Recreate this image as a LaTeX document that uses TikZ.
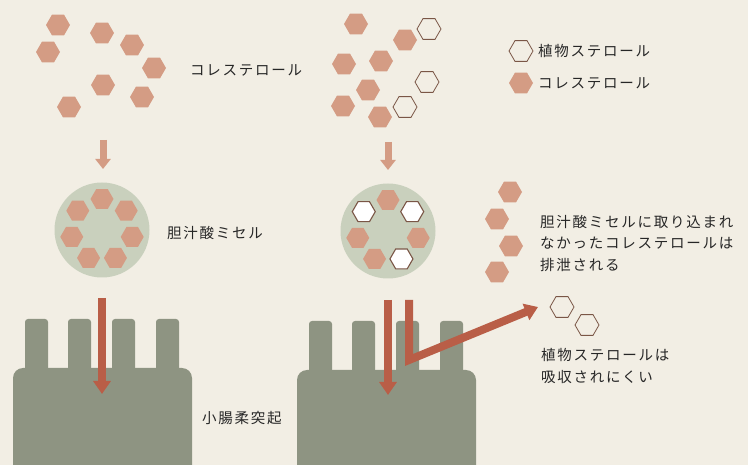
\documentclass[tikz,border=0pt]{standalone}
\usepackage{fontspec}
\usepackage{tikz}
\usepackage{xcolor}
\usetikzlibrary{shapes.geometric, arrows.meta, calc}
\newfontfamily\jpfont[LetterSpace=12]{Noto Sans CJK JP}
\definecolor{paper}{HTML}{F2EEE4}
\definecolor{villus}{HTML}{8E9482}
\definecolor{micelle}{HTML}{C9D0BD}
\definecolor{chol}{HTML}{D49C84}
\definecolor{flow}{HTML}{B95E47}
\definecolor{sterol}{HTML}{7A5646}
\definecolor{ink}{HTML}{262626}

\begin{document}
\begin{tikzpicture}[x=1pt, y=-1pt,
  hex/.style={regular polygon, regular polygon sides=6, minimum size=24pt, inner sep=0pt, outer sep=0pt},
  chol/.style={hex, fill=chol},
  plant/.style={hex, draw=sterol, line width=0.8pt, fill=#1}, plant/.default=paper,
  label text/.style={font=\jpfont\fontsize{14.5}{21.5}\selectfont, text=ink, anchor=west, align=left, inner sep=0pt},
  small flow/.style={draw=chol, line width=7pt, -{Triangle[width=15pt,length=10pt]}},
  big flow/.style={draw=flow, line width=8pt, line join=miter, -{Triangle[width=17pt,length=13pt]}}]
\path[use as bounding box, fill=paper] (0,0) rectangle (748,465);

\fill[villus, rounded corners=10pt] (13,490) -- (13,368) -- (192,368) -- (192,490) -- cycle;
\foreach \x in {25,68,112,156} \fill[villus, rounded corners=3pt] (\x,380) rectangle (\x+23,319);
\fill[villus, rounded corners=10pt] (297,490) -- (297,370) -- (476,370) -- (476,490) -- cycle;
\foreach \x in {309,352,396,440} \fill[villus, rounded corners=3pt] (\x,380) rectangle (\x+23,321);

\foreach \p [count=\i] in {(58,25),(48,52),(102,33),(132,45),(154,68),(103,85),(142,97),(69,107)} \node[chol] (cL-\i) at \p {};
\foreach \p [count=\i] in {(356,24),(405,40),(344,64),(381,61),(368,90),(343,106),(380,117)} \node[chol] (cR-\i) at \p {};
\foreach \p [count=\i] in {(429,29),(427,82),(405,107)} \node[plant] (pR-\i) at \p {};

\node[circle, fill=micelle, minimum size=95pt, inner sep=0pt] (mL) at (102,230) {};
\foreach \a [count=\i] in {90,141.4,192.8,244.3,295.7,347.1,38.6} \node[chol, minimum size=23pt] (mL-\i) at ($(mL)+(\a:31pt)$) {};
\node[circle, fill=micelle, minimum size=95pt, inner sep=0pt] (mR) at (388,231) {};
\foreach \a [count=\i] in {90,192.8,244.3,347.1} \node[chol, minimum size=23pt] (mR-c\i) at ($(mR)+(\a:31pt)$) {};
\foreach \a [count=\i] in {141.4,295.7,38.6} \node[plant=white, minimum size=23pt, line width=1.1pt] (mR-p\i) at ($(mR)+(\a:31pt)$) {};

\foreach \p [count=\i] in {(510,192),(497,219),(511,246),(497,272)} \node[chol] (out-\i) at \p {};
\foreach \p [count=\i] in {(562,307),(587,325)} \node[plant] (in-\i) at \p {};
\node[plant] (key1) at (521,51) {};
\node[chol] (key2) at (521,83) {};

\coordinate (aL1) at (103,140); \coordinate (aL2) at (103,169);
\coordinate (aR1) at (388,142); \coordinate (aR2) at (388,170);
\coordinate (bL1) at (102,298); \coordinate (bL2) at (102,394);
\coordinate (bR1) at (388,300); \coordinate (bR2) at (388,395);
\coordinate (cR1) at (409,300); \coordinate (cR2) at (409,360); \coordinate (cR3) at (538,307);
\draw[small flow] (aL1) -- (aL2);
\draw[small flow] (aR1) -- (aR2);
\draw[big flow] (bL1) -- (bL2);
\draw[big flow] (bR1) -- (bR2);
\draw[big flow] (cR1) -- (cR2) -- (cR3);

\node[label text] (tChol) at (190,70) {コレステロール};
\node[label text] (tMic) at (167,233) {胆汁酸ミセル};
\node[label text] (tVil) at (202,418) {小腸柔突起};
\node[label text] (tKey1) at (538,51) {植物ステロール};
\node[label text] (tKey2) at (538,83) {コレステロール};
\node[label text] (tOut) at (540,243) {胆汁酸ミセルに取り込まれ\\なかったコレステロールは\\排泄される};
\node[label text] (tIn) at (541,366) {植物ステロールは\\吸収されにくい};
\end{tikzpicture}
\end{document}
